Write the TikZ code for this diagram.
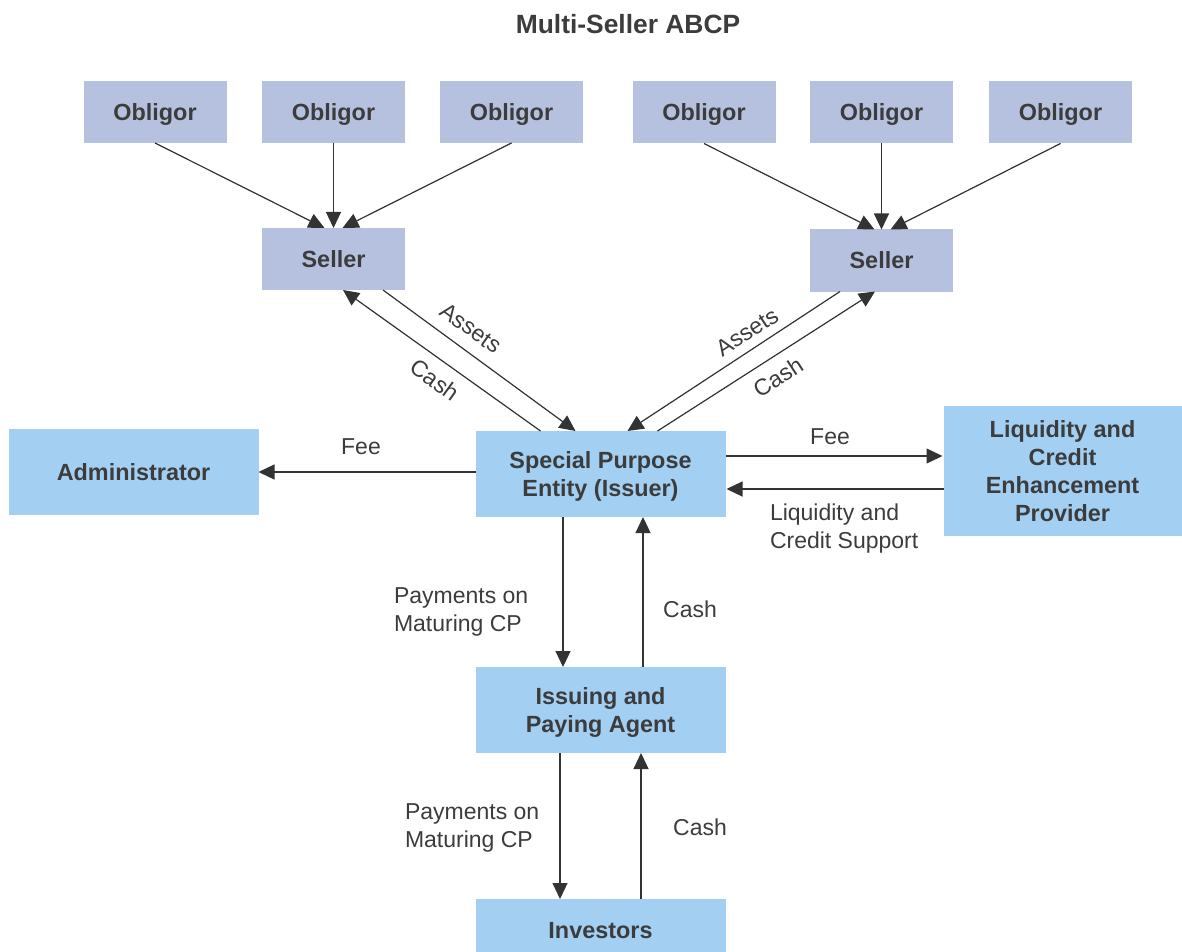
\documentclass[tikz,border=0pt]{standalone}
\usepackage{fontspec}
\setmainfont{Liberation Sans}
\usepackage{tikz}
\usetikzlibrary{calc}
\usetikzlibrary{positioning}
\usetikzlibrary{arrows.meta}
\definecolor{lavbox}{HTML}{B5C1DE}
\definecolor{bluebox}{HTML}{A3CFF2}
\definecolor{txtgray}{HTML}{3C3C3C}
\definecolor{linegray}{HTML}{333333}

\begin{document}
\begin{tikzpicture}
[x=0.5pt,y=-0.5pt, arr/.style={-{Triangle[length=8pt,width=7.5pt]},draw=linegray,
    fill=linegray,line width=0.6pt}, lav node/.style={rectangle,fill=lavbox,
    minimum width=71.5pt,minimum height=31pt, inner sep=0pt, outer sep=0pt,
    text depth=0pt,text=txtgray,font=\fontsize{11.7}{14}\selectfont\bfseries}, blue
  node/.style={rectangle,fill=bluebox,minimum width=125pt,minimum
    height=43pt, inner sep=0pt, outer sep=0pt,align=center,text depth=0pt,
    text=txtgray,font=\fontsize{11.7}{14}\selectfont\bfseries}, empt
  node/.style={inner sep=0pt,outer sep=0pt,text=txtgray,
    font=\fontsize{11.5}{14}\selectfont}]

    \useasboundingbox (0,0) rectangle (1182,952);

    \node [empt node, font=\fontsize{13.2}{16}\selectfont\bfseries] (title) at (628,24) {Multi-Seller ABCP};

    \node [lav node] (o1) at (155,112) {Obligor};
    \node [lav node] (o2) at (333.5,112) {Obligor};
    \node [lav node] (o3) at (511.5,112) {Obligor};
    \node [lav node] (o4) at (704,112.5) {Obligor};
    \node [lav node] (o5) at (881.5,112.5) {Obligor};
    \node [lav node] (o6) at (1060.5,112.5) {Obligor};

    \node [lav node] (s1) at (333.5,259) {Seller};
    \node [lav node] (s2) at (881.5,260.5) {Seller};

    \node [blue node] (adm) at (133.5,472) {Administrator};
    \node [blue node] (spe) at (600.5,474) {Special Purpose\\Entity (Issuer)};
    \node [blue node, minimum width=119pt, minimum height=65pt] (liq) at (1062.5,471)
        {Liquidity and\\Credit\\Enhancement\\Provider};
    \node [blue node] (ipa) at (600.5,710) {Issuing and\\Paying Agent};
    \node [blue node, minimum height=31pt] (inv) at (600.5,930) {Investors};

    % obligors to sellers
    \draw[arr] (o1.south) -- ($(s1.north)+(-9,0)$);
    \draw[arr] (o2.south) -- (s1.north);
    \draw[arr] (o3.south) -- ($(s1.north)+(9,0)$);
    \draw[arr] (o4.south) -- ($(s2.north)+(-7,0)$);
    \draw[arr] (o5.south) -- (s2.north);
    \draw[arr] (o6.south) -- ($(s2.north)+(9,0)$);

    % sellers and issuer
    \draw[arr] ($(s1.south)+(49.5,0)$) -- ($(spe.north)+(-25,0)$);
    \draw[arr] ($(spe.north)+(-60,0)$) -- ($(s1.south)+(9.5,0)$);
    \draw[arr] ($(s2.south)+(-41.5,0)$) -- ($(spe.north)+(27,0)$);
    \draw[arr] ($(spe.north)+(57,0)$) -- ($(s2.south)+(-6.5,0)$);
    \node [empt node, rotate=-36] (a1) at (471,328) {Assets};
    \node [empt node, rotate=-36] (c1) at (435,380) {Cash};
    \node [empt node, rotate=33] (a2) at (747,332) {Assets};
    \node [empt node, rotate=33] (c2) at (778,377) {Cash};

    \draw[arr] (spe.west |- adm.east) -- (adm.east);
    \node [empt node] (f1) at (361,447) {Fee};
    \draw[arr] ($(spe.east)+(0,-18)$) -- ($(spe.east)+(217,-18)$);
    \node [empt node] (f2) at (830,437) {Fee};
    \draw[arr] ($(liq.west)+(0,18)$) -- ($(liq.west)+(-217,18)$);
    \node [empt node, anchor=west, align=left] (ls) at (770,529) {Liquidity and\\Credit Support};

    % issuer, agent and investors
    \draw[arr] ($(spe.south)+(-37.5,0)$) -- ($(ipa.north)+(-37.5,0)$);
    \draw[arr] ($(ipa.north)+(42.5,0)$) -- ($(spe.south)+(42.5,0)$);
    \node [empt node, anchor=west, align=left] (p1) at (394,612) {Payments on\\Maturing CP};
    \node [empt node] (k1) at (690,609) {Cash};
    \draw[arr] ($(ipa.south)+(-40.5,0)$) -- ($(inv.north)+(-40.5,0)$);
    \draw[arr] ($(inv.north)+(40.5,0)$) -- ($(ipa.south)+(40.5,0)$);
    \node [empt node, anchor=west, align=left] (p2) at (405,828) {Payments on\\Maturing CP};
    \node [empt node] (k2) at (700,827) {Cash};
\end{tikzpicture}
\end{document}
